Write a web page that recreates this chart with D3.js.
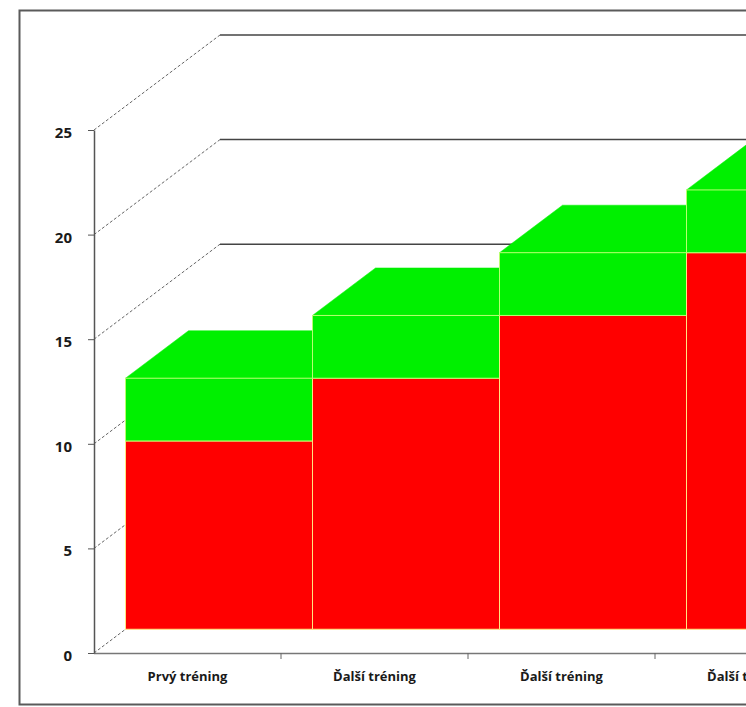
<!DOCTYPE html>
<html>
<head>
<meta charset="utf-8">
<script src="https://cdn.jsdelivr.net/npm/d3@7"></script>
<style>
body { margin: 0; background: #fff; }
text { font-family: "Open Sans", Lato, sans-serif; font-weight: bold; fill: #1a1a1a; }
</style>
</head>
<body>
<script>
// chart data
var categories = ["Prvý tréning", "Ďalší tréning", "Ďalší tréning", "Ďalší tréning"];
var redValues = [9, 12, 15, 18];
var greenValues = [3, 3, 3, 3];
var yTicks = [0, 5, 10, 15, 20, 25];

var width = 746, height = 707;
// oblique depth of the whole plot box
var depthX = 126, depthY = -95;
var barFront = 0.25, barBack = 0.75;

var svg = d3.select("body").append("svg").attr("width", width).attr("height", height);

svg.append("rect")
    .attr("x", 19.5).attr("y", 10.5)
    .attr("width", 800).attr("height", 694)
    .attr("fill", "#fff").attr("stroke", "#5a5a5a").attr("stroke-width", 2);

var y = d3.scaleLinear().domain([0, 25]).range([653, 130]);
var x = d3.scaleBand().domain(d3.range(categories.length)).range([94, 94 + 187 * categories.length]).paddingInner(0);

// side wall gridlines (dashed) and back wall gridlines
yTicks.forEach(function (t) {
    svg.append("line")
        .attr("x1", 94).attr("y1", y(t))
        .attr("x2", 94 + depthX).attr("y2", y(t) + depthY)
        .attr("stroke", "#666").attr("stroke-width", 1).attr("stroke-dasharray", "3,2");
    if (t > 0) {
        svg.append("line")
            .attr("x1", 94 + depthX).attr("y1", y(t) + depthY)
            .attr("x2", width + 10).attr("y2", y(t) + depthY)
            .attr("stroke", "#444").attr("stroke-width", 1.5);
    }
});

// front floor edge
svg.append("line")
    .attr("x1", 94).attr("y1", 653.5).attr("x2", width + 10).attr("y2", 653.5)
    .attr("stroke", "#777").attr("stroke-width", 1.5);

function pt(px, py, d) {
    return [px + depthX * d, py + depthY * d];
}

function drawBox(g, x0, x1, v0, v1, fill, side, top, edge) {
    var yb = y(v0), yt = y(v1);
    // right side face
    g.append("polygon")
        .attr("points", [pt(x1, yb, barFront), pt(x1, yb, barBack), pt(x1, yt, barBack), pt(x1, yt, barFront)].join(" "))
        .attr("fill", side);
    if (top) {
        g.append("polygon")
            .attr("points", [pt(x0, yt, barFront), pt(x0, yt, barBack), pt(x1, yt, barBack), pt(x1, yt, barFront)].join(" "))
            .attr("fill", top).attr("stroke", top).attr("stroke-width", 0.5);
    }
    var f0 = pt(x0, yt, barFront), f1 = pt(x1, yb, barFront);
    g.append("rect")
        .attr("x", f0[0]).attr("y", f0[1])
        .attr("width", f1[0] - f0[0]).attr("height", f1[1] - f0[1])
        .attr("fill", fill).attr("stroke", edge).attr("stroke-width", 1);
}

var bars = svg.append("g");
categories.forEach(function (c, i) {
    var x0 = x(i), x1 = x(i) + x.bandwidth();
    var g = bars.append("g");
    drawBox(g, x0, x1, 0, redValues[i], "#ff0000", "#d00000", null, "#ffe680");
    drawBox(g, x0, x1, redValues[i], redValues[i] + greenValues[i], "#00f000", "#00c800", "#00f000", "#b8ff70");
});

// value axis
var yAxis = d3.axisLeft(y).tickValues(yTicks).tickSize(6).tickSizeOuter(0).tickPadding(16);
var ya = svg.append("g").attr("transform", "translate(94,0)").call(yAxis);
ya.select(".domain").attr("stroke", "#555").attr("stroke-width", 1.5);
ya.selectAll(".tick line").attr("stroke", "#555");
ya.selectAll(".tick text").style("font-size", "15px").attr("dy", "0.5em");

// category boundary ticks
var bounds = d3.range(1, categories.length + 1);
svg.selectAll(".ctick").data(bounds).enter().append("line")
    .attr("x1", function (d) { return x(0) + d * x.bandwidth(); })
    .attr("x2", function (d) { return x(0) + d * x.bandwidth(); })
    .attr("y1", 653).attr("y2", 659)
    .attr("stroke", "#666");

// category labels
var xAxis = d3.axisBottom(x).tickSize(0).tickPadding(19).tickFormat(function (i) { return categories[i]; });
var xa = svg.append("g").attr("transform", "translate(0,653)").call(xAxis);
xa.select(".domain").remove();
xa.selectAll(".tick text").style("font-size", "13px");
</script>
</body>
</html>
